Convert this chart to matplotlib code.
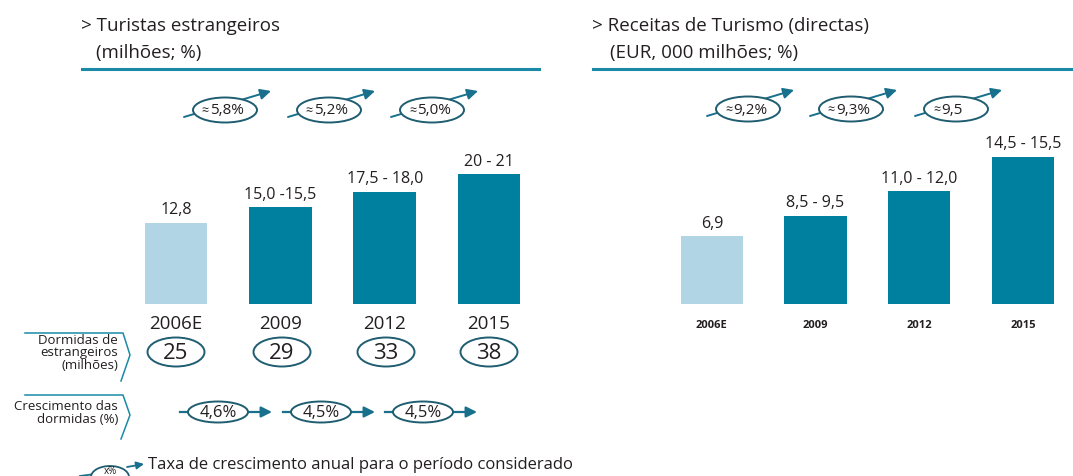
import matplotlib
matplotlib.use("Agg")
import matplotlib.pyplot as plt
from matplotlib.patches import Ellipse

plt.rcParams["font.family"] = ["Open Sans", "DejaVu Sans"]

# data
years = ["2006E", "2009", "2012", "2015"]
tourists = [12.8, 15.25, 17.75, 20.5]
tourists_labels = ["12,8", "15,0 -15,5", "17,5 - 18,0", "20 - 21"]
tourists_growth = ["5,8%", "5,2%", "5,0%"]
nights = ["25", "29", "33", "38"]
nights_growth = ["4,6%", "4,5%", "4,5%"]
receipts = [6.9, 9.0, 11.5, 15.0]
receipts_labels = ["6,9", "8,5 - 9,5", "11,0 - 12,0", "14,5 - 15,5"]
receipts_growth = ["9,2%", "9,3%", "9,5"]

DARK = "#00809f"
LIGHT = "#b1d5e5"
EDGE = "#1f5d70"
ARROW = "#18708c"
RULE = "#1a8aa6"
TXT = "#231f20"

W, H = 1073, 477
fig = plt.figure(figsize=(W / 100, H / 100), dpi=100)


def px_axes(x0, y_top, w, h):
    return fig.add_axes([x0 / W, 1 - (y_top + h) / H, w / W, h / H])


def bar_panel(x0, bottom, slot, ppu, ymax, values, labels, year_fs, year_dy, bold):
    ax = px_axes(x0, bottom - ymax * ppu, slot * 4, ymax * ppu)
    colors = [LIGHT] + [DARK] * (len(values) - 1)
    bars = ax.bar(range(len(values)), values, width=0.6, color=colors)
    ax.set_xlim(-0.5, len(values) - 0.5)
    ax.set_ylim(0, ymax)
    ax.axis("off")
    for b, lab in zip(bars, labels):
        ax.annotate(lab, (b.get_x() + b.get_width() / 2, b.get_height()),
                    xytext=(0, 4), textcoords="offset points",
                    ha="center", va="bottom", fontsize=11.5, color=TXT)
    for i, y in enumerate(years):
        ax.annotate(y, (i, 0), xytext=(0, -year_dy), textcoords="offset points",
                    ha="center", va="center", fontsize=year_fs, color=TXT,
                    fontweight="bold" if bold else "normal")
    return ax


bar_panel(124, 305, 104.3, 6.33, 30, tourists, tourists_labels, 13.5, 14, False)
bar_panel(660, 305, 103.7, 9.8, 20, receipts, receipts_labels, 8, 15, True)

# overlay in pixel coordinates
ov = fig.add_axes([0, 0, 1, 1])
ov.set_xlim(0, W)
ov.set_ylim(H, 0)
ov.axis("off")

# titles and rules
ov.text(81, 26, "> Turistas estrangeiros", fontsize=13.5, color=TXT, va="center")
ov.text(96, 53, "(milhões; %)", fontsize=13.5, color=TXT, va="center")
ov.plot([82, 539], [70, 70], color=RULE, lw=2.2)
ov.text(592, 26, "> Receitas de Turismo (directas)", fontsize=13.5, color=TXT, va="center")
ov.text(610, 53, "(EUR, 000 milhões; %)", fontsize=13.5, color=TXT, va="center")
ov.plot([593, 1073], [70, 70], color=RULE, lw=2.2)


def rising(cx, cy, label):
    ov.annotate("", xy=(cx + 46, cy - 19), xytext=(cx - 41, cy + 7),
                arrowprops=dict(arrowstyle="-|>", color=ARROW, lw=1.4,
                                mutation_scale=16, shrinkA=0, shrinkB=0))
    ov.add_patch(Ellipse((cx, cy), 64, 25, facecolor="white", edgecolor=EDGE,
                         lw=1.4, zorder=3))
    ov.text(cx - 16, cy, "≈", ha="right", va="center", fontsize=9,
            color=TXT, zorder=4)
    ov.text(cx - 15, cy, label, ha="left", va="center", fontsize=11,
            color=TXT, zorder=4)


for cx, lab in zip([225, 329, 432], tourists_growth):
    rising(cx, 111, lab)
for cx, lab in zip([748, 851, 956], receipts_growth):
    rising(cx, 110, lab)


def bracket(y0, y1, y2):
    ov.plot([25, 123, 130, 121], [y0, y0, y1, y2], color=RULE, lw=1.1)


bracket(334, 356, 382)
ov.text(118, 353, "Dormidas de\nestrangeiros\n(milhões)", ha="right", va="center",
        fontsize=9.5, color=TXT, linespacing=0.92)
for cx, lab in zip([176, 282, 386, 489], nights):
    ov.add_patch(Ellipse((cx, 353), 57, 29, facecolor="white", edgecolor=EDGE, lw=1.4))
    ov.text(cx, 354, lab, ha="center", va="center", fontsize=16, color=TXT)

bracket(396, 416, 440)
ov.text(118, 413, "Crescimento das\ndormidas (%)", ha="right", va="center",
        fontsize=9.5, color=TXT, linespacing=0.92)
for cx, lab in zip([218, 321, 423], nights_growth):
    ov.plot([cx - 38, cx - 30], [413, 413], color=ARROW, lw=1.6)
    ov.annotate("", xy=(cx + 54, 413), xytext=(cx + 30, 413),
                arrowprops=dict(arrowstyle="-|>", color=ARROW, lw=1.6,
                                mutation_scale=16, shrinkA=0, shrinkB=0))
    ov.add_patch(Ellipse((cx, 413), 60, 21, facecolor="white", edgecolor=EDGE,
                         lw=1.4, zorder=3))
    ov.text(cx, 413, lab, ha="center", va="center", fontsize=12, color=TXT, zorder=4)

# legend
ov.plot([80, 95], [477, 475], color=ARROW, lw=1.3)
ov.annotate("", xy=(144, 465), xytext=(127, 468),
            arrowprops=dict(arrowstyle="-|>", color=ARROW, lw=1.3,
                            mutation_scale=11, shrinkA=0, shrinkB=0))
ov.add_patch(Ellipse((110, 478), 38, 22, facecolor="white", edgecolor=EDGE,
                     lw=1.3, zorder=3))
ov.text(110, 471.5, "x%", ha="center", va="center", fontsize=7, color=TXT, zorder=4)
ov.text(148, 465, "Taxa de crescimento anual para o período considerado",
        ha="left", va="center", fontsize=12, color=TXT)

fig.savefig("out.png", dpi=100)
